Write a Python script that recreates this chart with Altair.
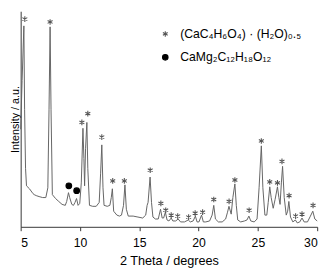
import altair as alt
import pandas as pd

# XRD pattern (2θ in degrees, intensity in arbitrary units)
two_theta = [5.00, 5.12, 5.27, 5.33, 5.41, 5.49, 5.74, 6.04, 6.14, 6.31, 6.55, 6.85, 7.12, 7.29, 7.39, 7.48,
             7.56, 7.67, 7.94, 8.21, 8.49, 8.76, 8.88, 9.03, 9.13, 9.31, 9.45, 9.58, 9.71, 9.84, 9.98,
             10.11, 10.25, 10.33, 10.39, 10.47, 10.58, 10.66, 10.80, 11.07, 11.37, 11.62, 11.74, 11.84,
             11.94, 12.03, 12.30, 12.52, 12.64, 12.73, 12.84, 13.11, 13.33, 13.50, 13.67, 13.79, 13.91,
             14.07, 14.48, 14.89, 15.29, 15.54, 15.66, 15.74, 15.91, 16.03, 16.15, 16.36, 16.60, 16.79,
             16.93, 17.05, 17.20, 17.34, 17.50, 17.69, 17.83, 18.07, 18.28, 18.48, 18.81, 19.13, 19.30,
             19.54, 19.73, 19.87, 20.03, 20.25, 20.40, 20.60, 20.93, 21.14, 21.28, 21.42, 21.67, 21.99,
             22.28, 22.44, 22.56, 22.75, 22.89, 23.06, 23.18, 23.30, 23.55, 23.87, 24.08, 24.24, 24.40,
             24.69, 24.93, 25.10, 25.29, 25.42, 25.59, 25.75, 25.87, 26.00, 26.12, 26.29, 26.45, 26.65,
             26.77, 26.87, 26.98, 27.08, 27.22, 27.39, 27.51, 27.61, 27.75, 27.95, 28.16, 28.32, 28.53,
             28.72, 28.90, 29.18, 29.43, 29.63, 29.80, 30.00]
intensity = [100, 150, 206, 120, 60, 42, 39, 34, 33, 32, 31, 30, 30, 40, 120, 205,
             120, 33, 29, 26, 23, 22, 26, 35, 30, 23, 22, 25, 29, 22, 24,
             45, 101, 70, 42, 80, 107, 60, 22, 21, 21, 25, 55, 84,
             40, 22, 21, 22, 30, 39, 16, 12, 11, 12, 22, 43, 18,
             11, 11, 10, 9, 12, 22, 25, 51, 25, 10, 8, 8, 18,
             9, 9, 15, 7, 6, 9, 6, 6, 8, 5, 5, 7, 5,
             6, 11, 5, 5, 12, 5, 5, 6, 12, 22, 8, 5, 5,
             8, 15, 21, 13, 30, 44, 22, 7, 5, 6, 7, 11, 6,
             5, 8, 40, 83, 40, 12, 12, 25, 41, 30, 19, 28, 41,
             30, 23, 45, 62, 30, 12, 16, 26, 10, 5, 7, 4, 5,
             9, 5, 5, 11, 16, 8, 6]

# peak markers
phase_a = "(CaC₄H₆O₄) · (H₂O)₀.₅"
phase_b = "CaMg₂C₁₂H₁₈O₁₂"
star_pos = [5.35, 7.48, 10.16, 10.66, 11.84, 12.76, 13.74, 15.92, 16.82, 17.23, 17.69, 18.24, 19.16,
            19.71, 20.34, 21.28, 22.57, 23.06, 24.26, 25.29, 26.00, 26.65, 27.03, 27.63, 28.18, 28.72, 29.65]
star_int = [213, 210, 107, 116, 92, 47, 47, 58, 24, 17, 12, 11, 10,
            14, 15, 28, 26, 48, 17, 88, 46, 45, 67, 32, 11, 13, 22]
dot_pos = [9.06, 9.72]
dot_int = [42, 37]

curve = pd.DataFrame({"x": two_theta, "y": intensity})
marks = pd.DataFrame({
    "x": star_pos + dot_pos,
    "y": star_int + dot_int,
    "phase": [phase_a] * len(star_pos) + [phase_b] * len(dot_pos),
})

FONT = "Liberation Sans"
ASTERISK = "M0,-1L0,1M-0.866,-0.5L0.866,0.5M-0.866,0.5L0.866,-0.5"

xscale = alt.Scale(domain=[5, 30], nice=False, zero=False)
yscale = alt.Scale(domain=[0, 221], nice=False)

line = alt.Chart(curve).mark_line(color="#636363", strokeWidth=1).encode(
    x=alt.X("x:Q", scale=xscale, title="2 Theta / degrees",
            axis=alt.Axis(values=[5, 7.5, 10, 12.5, 15, 17.5, 20, 22.5, 25, 27.5, 30],
                          labelExpr="datum.value % 5 === 0 ? datum.label : ''",
                          tickSize={"condition": {"test": "datum.value % 5 === 0", "value": 4}, "value": 2},
                          grid=False, labelPadding=6, titlePadding=6, labelFontSize=12.5,
                          titleFontSize=13)),
    y=alt.Y("y:Q", scale=yscale, title="Intensity / a.u.",
            axis=alt.Axis(labels=False, ticks=False, grid=False, titleX=0, titleFontSize=11)),
)

dom = [phase_a, phase_b]
pts = alt.Chart(marks).mark_point(opacity=1, strokeWidth=1.1, size=34).encode(
    x="x:Q",
    y="y:Q",
    shape=alt.Shape("phase:N", scale=alt.Scale(domain=dom, range=[ASTERISK, "circle"]),
                    legend=alt.Legend(orient="none", legendX=142, legendY=17, title=None,
                                      labelFontSize=12.5, labelFont=FONT, rowPadding=11,
                                      labelOffset=9, symbolSize=32, symbolStrokeWidth=1.1)),
    stroke=alt.Stroke("phase:N", scale=alt.Scale(domain=dom, range=["#555555", "#000000"]), legend=None),
    fill=alt.Fill("phase:N", scale=alt.Scale(domain=dom, range=["transparent", "#000000"]), legend=None),
)

chart = alt.layer(line, pts).properties(
    width=304, height=221,
    autosize=alt.AutoSizeParams(type="none"),
    padding={"left": 13, "top": 0, "right": 8, "bottom": 43},
).configure_view(stroke=None).configure_axis(
    labelFont=FONT, titleFont=FONT,
    titleFontWeight="normal", labelColor="#000", titleColor="#000",
    domainColor="#333", tickColor="#333", domainWidth=1,
)

chart.save("out.html", embed_options={"renderer": "svg", "actions": False})
